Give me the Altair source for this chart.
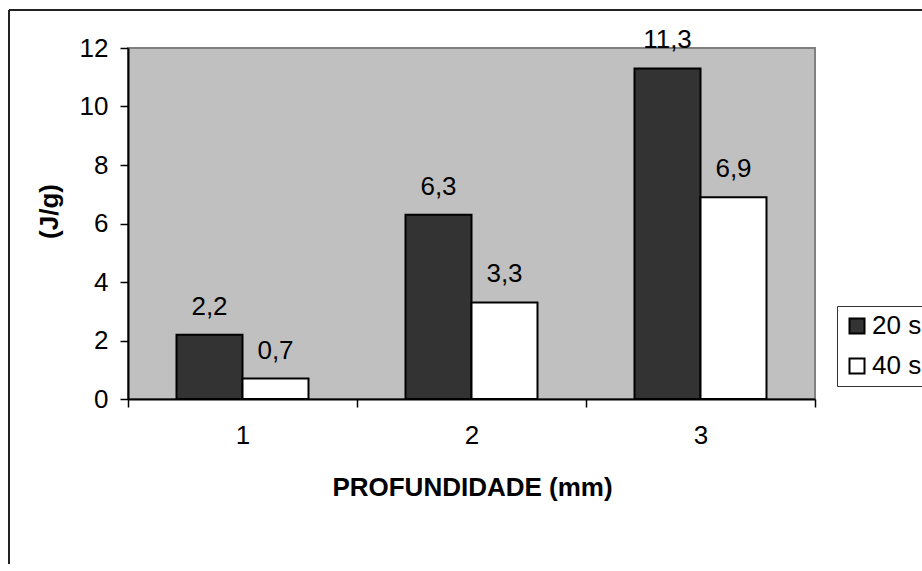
import altair as alt
import pandas as pd

profundidade = ["1", "2", "3"]
series = ["20 s", "40 s"]
valores_20s = [2.2, 6.3, 11.3]
valores_40s = [0.7, 3.3, 6.9]
y_ticks = [0, 2, 4, 6, 8, 10, 12]

rows = []
for p, a, b in zip(profundidade, valores_20s, valores_40s):
    rows.append({"prof": p, "serie": series[0], "valor": a})
    rows.append({"prof": p, "serie": series[1], "valor": b})
df = pd.DataFrame(rows)
df["label"] = df["valor"].map(lambda v: f"{v:.1f}".replace(".", ","))

FONT = "Liberation Sans"
FS = 26

x_enc = alt.X(
    "prof:N",
    sort=profundidade,
    scale=alt.Scale(paddingInner=0, paddingOuter=0),
    axis=alt.Axis(
        title="PROFUNDIDADE (mm)",
        labelAngle=0,
        tickBand="extent",
        tickSize=8,
        labelPadding=15,
        titleX=344,
        titleY=96,
        titleBaseline="alphabetic",
        titleAlign="center",
    ),
)
xoff_enc = alt.XOffset(
    "serie:N", sort=series, scale=alt.Scale(paddingInner=0, paddingOuter=0.735)
)
y_enc = alt.Y(
    "valor:Q",
    scale=alt.Scale(domain=[0, 12], nice=False),
    axis=alt.Axis(
        values=y_ticks,
        grid=False,
        title="(J/g)",
        tickSize=8,
        labelPadding=12,
        titleAngle=-90,
        titleX=-79,
        titleY=163,
        titleAlign="center",
        titleBaseline="middle",
    ),
)

base = alt.Chart(df)

bars = base.mark_bar(stroke="black", strokeWidth=2).encode(
    x=x_enc,
    xOffset=xoff_enc,
    y=y_enc,
    fill=alt.Fill(
        "serie:N",
        sort=series,
        scale=alt.Scale(domain=series, range=["#333333", "#ffffff"]),
        legend=alt.Legend(
            title=None,
            orient="none",
            legendX=709,
            legendY=258,
            symbolType="square",
            symbolSize=225,
            symbolStrokeColor="black",
            symbolStrokeWidth=2,
            labelFont=FONT,
            labelFontSize=FS,
            labelOffset=2,
            rowPadding=14,
            padding=7,
            strokeColor="#333333",
            fillColor="white",
        ),
    ),
)

labels = base.mark_text(
    dy=-20, baseline="alphabetic", fontSize=FS, font=FONT, color="black"
).encode(x=x_enc, xOffset=xoff_enc, y=y_enc, text="label:N")

frame_df = pd.DataFrame({"k": [0]})
border_left = alt.Chart(frame_df).mark_rule(color="#222222", strokeWidth=2).encode(
    x=alt.value(-119), y=alt.value(-38), y2=alt.value(700)
)
border_top = alt.Chart(frame_df).mark_rule(color="#222222", strokeWidth=2).encode(
    x=alt.value(-119), x2=alt.value(900), y=alt.value(-38)
)

chart = (
    alt.layer(bars, labels, border_left, border_top)
    .properties(
        width=687,
        height=351,
        autosize=alt.AutoSizeParams(type="none"),
        padding={"left": 128, "top": 48, "right": 107, "bottom": 165},
        background="white",
    )
    .configure_view(fill="#C0C0C0", stroke="#808080", strokeWidth=2)
    .configure_axis(
        labelFont=FONT,
        labelFontSize=FS,
        labelColor="black",
        titleFont=FONT,
        titleFontSize=FS,
        titleFontWeight="bold",
        titleColor="black",
        domainColor="black",
        domainWidth=2,
        tickColor="black",
        tickWidth=1.5,
    )
)

chart.save("out.html", embed_options={"renderer": "svg", "actions": False})
